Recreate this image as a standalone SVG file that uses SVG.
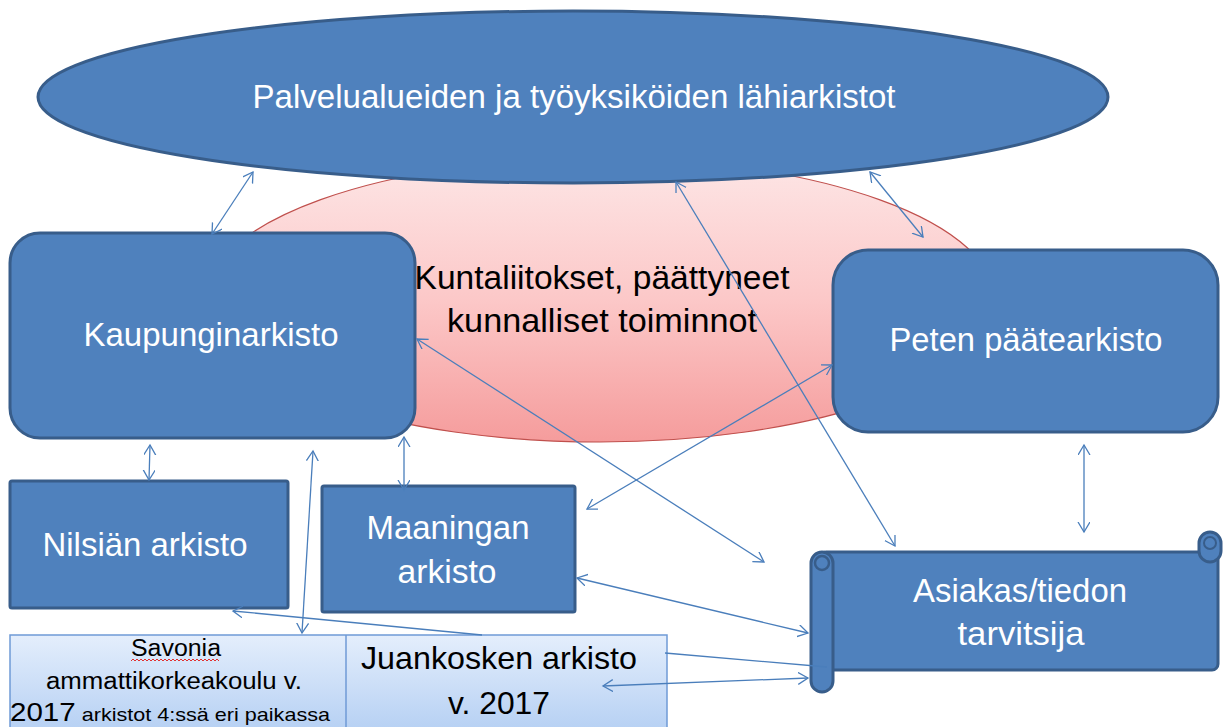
<svg xmlns="http://www.w3.org/2000/svg" width="1227" height="727" viewBox="0 0 1227 727">
<defs>
<linearGradient id="pink" x1="0" y1="0" x2="0" y2="1">
<stop offset="0" stop-color="#fde6e6"/>
<stop offset="0.5" stop-color="#fcc8c8"/>
<stop offset="1" stop-color="#f59c9c"/>
</linearGradient>
<linearGradient id="lb" x1="0" y1="0" x2="0" y2="1">
<stop offset="0" stop-color="#e4eefc"/>
<stop offset="1" stop-color="#b4cff3"/>
</linearGradient>
<marker id="ah" markerUnits="userSpaceOnUse" markerWidth="14" markerHeight="14" refX="10" refY="6" orient="auto-start-reverse" viewBox="0 0 14 14">
<path d="M0,0 L10,6 L0,12" fill="none" stroke="#4a7ebb" stroke-width="1.3"/>
</marker>
<style>
.node{fill:#4f81bd;stroke:#385d8a;stroke-width:3}
.w{fill:#ffffff;font-family:"Liberation Sans",Arial,sans-serif;font-size:33px;text-anchor:middle}
.b{fill:#000000;font-family:"Liberation Sans",Arial,sans-serif;text-anchor:middle}
.c{fill:none;stroke:#4a7ebb;stroke-width:1.3}
.d{marker-start:url(#ah);marker-end:url(#ah)}
</style>
</defs>
<rect width="1227" height="727" fill="#ffffff"/>

<g id="kuntaliitokset">
<ellipse cx="600" cy="300" rx="395" ry="142" fill="url(#pink)" stroke="#c0504d" stroke-width="1.2"/>
<text class="b" font-size="33" x="602" y="289" textLength="375" lengthAdjust="spacingAndGlyphs">Kuntaliitokset, päättyneet</text>
<text class="b" font-size="33" x="602" y="332" textLength="310" lengthAdjust="spacingAndGlyphs">kunnalliset toiminnot</text>
</g>

<g id="lahiarkistot">
<ellipse class="node" cx="573" cy="97" rx="535" ry="86"/>
<text class="w" x="574" y="108" textLength="643" lengthAdjust="spacingAndGlyphs">Palvelualueiden ja työyksiköiden lähiarkistot</text>
</g>

<g id="kaupunginarkisto">
<rect class="node" x="10" y="233" width="405" height="205" rx="30"/>
<text class="w" x="211" y="346" textLength="255" lengthAdjust="spacingAndGlyphs">Kaupunginarkisto</text>
</g>

<g id="peten">
<rect class="node" x="833" y="250" width="385" height="182" rx="35"/>
<text class="w" x="1026" y="351" textLength="273" lengthAdjust="spacingAndGlyphs">Peten päätearkisto</text>
</g>

<g id="nilsia">
<rect class="node" x="10" y="481" width="278" height="127" rx="2"/>
<text class="w" x="145" y="556" textLength="205" lengthAdjust="spacingAndGlyphs">Nilsiän arkisto</text>
</g>

<g id="maaninka">
<rect class="node" x="322" y="486" width="253" height="126" rx="2"/>
<text class="w" x="448" y="539" textLength="163" lengthAdjust="spacingAndGlyphs">Maaningan</text>
<text class="w" x="447" y="583" textLength="99" lengthAdjust="spacingAndGlyphs">arkisto</text>
</g>

<g id="asiakas">
<rect class="node" x="820" y="552" width="398" height="118" rx="6"/>
<rect class="node" x="1199" y="532" width="22" height="30" rx="11"/>
<rect class="node" x="811" y="552" width="22" height="140" rx="11"/>
<circle cx="822" cy="563" r="7" fill="#4f81bd" stroke="#385d8a" stroke-width="2.5"/>
<circle cx="1210" cy="543" r="6" fill="#4f81bd" stroke="#385d8a" stroke-width="2"/>
<text class="w" x="1020" y="602" textLength="214" lengthAdjust="spacingAndGlyphs">Asiakas/tiedon</text>
<text class="w" x="1021" y="645" textLength="127" lengthAdjust="spacingAndGlyphs">tarvitsija</text>
</g>

<g id="savonia-juankoski">
<rect x="10" y="635" width="657" height="100" fill="url(#lb)" stroke="#6f9ad6" stroke-width="1.5"/>
<line x1="346" y1="635" x2="346" y2="727" stroke="#6f9ad6" stroke-width="1.5"/>
<text class="b" font-size="23" x="176" y="656" textLength="90" lengthAdjust="spacingAndGlyphs">Savonia</text>
<path d="M131,661 l2,-2 l2,2 l2,-2 l2,2 l2,-2 l2,2 l2,-2 l2,2 l2,-2 l2,2 l2,-2 l2,2 l2,-2 l2,2 l2,-2 l2,2 l2,-2 l2,2 l2,-2 l2,2 l2,-2 l2,2 l2,-2 l2,2 l2,-2 l2,2 l2,-2 l2,2 l2,-2 l2,2 l2,-2 l2,2 l2,-2 l2,2 l2,-2 l2,2 l2,-2 l2,2 l2,-2 l2,2 l2,-2 l2,2 l2,-2 l2,2" fill="none" stroke="#e03030" stroke-width="1"/>
<text class="b" font-size="23" x="174" y="689" textLength="256" lengthAdjust="spacingAndGlyphs">ammattikorkeakoulu v.</text>
<text class="b" x="170" y="721" font-size="19" textLength="320" lengthAdjust="spacingAndGlyphs"><tspan font-size="26">2017</tspan> arkistot 4:ssä  eri paikassa</text>
<text class="b" font-size="32" x="499" y="669" textLength="276" lengthAdjust="spacingAndGlyphs">Juankosken arkisto</text>
<text class="b" font-size="32" x="499" y="714" textLength="102" lengthAdjust="spacingAndGlyphs">v. 2017</text>
</g>

<g id="connectors">
<line class="c d" x1="212" y1="234" x2="253" y2="172"/>
<line class="c d" x1="870" y1="172" x2="923" y2="237"/>
<line class="c d" x1="676" y1="182" x2="895" y2="546"/>
<line class="c d" x1="417" y1="339" x2="764" y2="562"/>
<line class="c d" x1="587" y1="509" x2="832" y2="365"/>
<line class="c d" x1="404" y1="437" x2="404" y2="490"/>
<line class="c d" x1="150" y1="445" x2="149" y2="480"/>
<line class="c d" x1="313" y1="451" x2="302" y2="633"/>
<line class="c" x1="482" y1="635" x2="233" y2="611" marker-end="url(#ah)"/>
<line class="c d" x1="577" y1="578" x2="808" y2="633"/>
<line class="c" x1="665" y1="653" x2="827" y2="667"/>
<line class="c d" x1="603" y1="686" x2="808" y2="678"/>
<line class="c d" x1="1084" y1="445" x2="1084" y2="532"/>
</g>
</svg>
